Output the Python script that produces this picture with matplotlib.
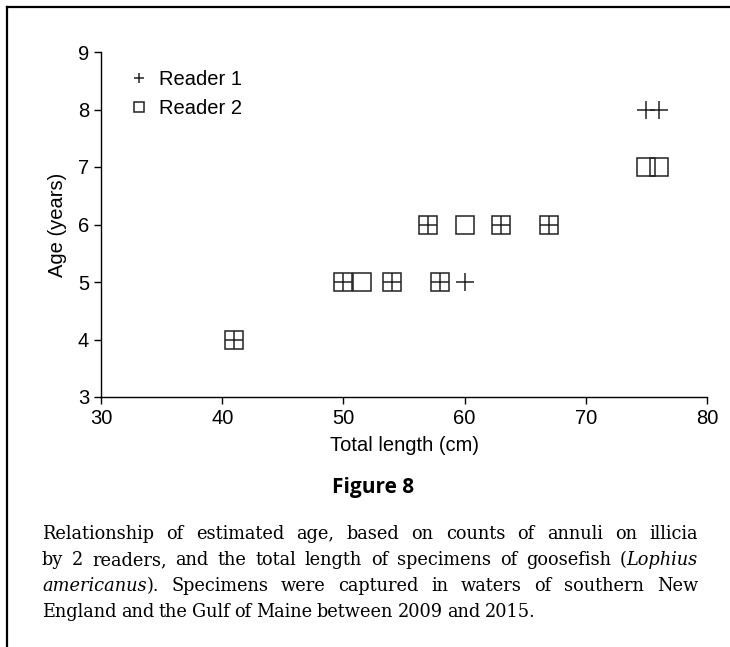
import matplotlib
matplotlib.use("Agg")
import matplotlib.pyplot as plt
from matplotlib.lines import Line2D

# reader 1 (+) and reader 2 (open square)
r1_length = [41, 50, 54, 58, 60, 57, 63, 67, 75, 76]
r1_age = [4, 5, 5, 5, 5, 6, 6, 6, 8, 8]
r2_length = [41, 50, 51.5, 54, 58, 57, 60, 63, 67, 75, 76]
r2_age = [4, 5, 5, 5, 5, 6, 6, 6, 6, 7, 7]

caption = [
    "Relationship of estimated age, based on counts of annuli on illicia",
    "by 2 readers, and the total length of specimens of goosefish (*Lophius*",
    "*americanus*). Specimens were captured in waters of southern New",
    "England and the Gulf of Maine between 2009 and 2015.",
]

plt.rcParams['font.family'] = ['Liberation Sans', 'DejaVu Sans']
W, H = 730, 647
fig = plt.figure(figsize=(W / 100, H / 100), dpi=100)
ax = fig.add_axes([101 / W, 1 - 397 / H, (707 - 101) / W, (397 - 52) / H])

ax.plot(r1_length, r1_age, linestyle='none', marker='+', markersize=13,
        markeredgewidth=1.1, color='#222222', label='Reader 1')
ax.plot(r2_length, r2_age, linestyle='none', marker='s', markersize=12.5,
        markeredgewidth=1.1, markerfacecolor='none', markeredgecolor='#222222',
        label='Reader 2')

ax.set_xlim(30, 80)
ax.set_ylim(3, 9)
ax.set_xticks(range(30, 81, 10))
ax.set_yticks(range(3, 10))
for s in ['top', 'right']:
    ax.spines[s].set_visible(False)
for s in ['left', 'bottom']:
    ax.spines[s].set_linewidth(1.0)
ax.tick_params(direction='out', length=5, width=1.0, labelsize=14.5)
ax.set_xlabel('Total length (cm)', fontsize=14.5, labelpad=6)
ax.set_ylabel('Age (years)', fontsize=14.5, labelpad=8)

ax.legend(loc='upper left', bbox_to_anchor=(0.04, 0.97), frameon=False,
          fontsize=14.5, markerscale=0.6, handlelength=0.6, handletextpad=0.7,
          labelspacing=0.5, borderaxespad=0)

# figure border (top and left only)
fig.add_artist(Line2D([7 / W, 1], [1 - 7 / H, 1 - 7 / H], color='black', lw=1.6))
fig.add_artist(Line2D([7 / W, 7 / W], [0, 1 - 7 / H], color='black', lw=1.6))

fig.text(373 / W, 1 - 487 / H, 'Figure 8', ha='center', va='center',
         fontsize=15, fontweight='bold', family=['Open Sans', 'DejaVu Sans'])

# justified caption, word by word (*...* marks italic)
fig.canvas.draw()
renderer = fig.canvas.get_renderer()
x0, x1 = 42, 698
ys = [534, 560, 586, 612]
for i, line in enumerate(caption):
    words = line.split(' ')
    arts = []
    for w in words:
        if '*' in w:
            parts = w.split('*')
            pieces = [(parts[0], 'normal'), (parts[1], 'italic'), (parts[2], 'normal')]
        else:
            pieces = [(w, 'normal')]
        group = []
        for txt, st in pieces:
            if txt == '':
                continue
            t = fig.text(0, 1 - ys[i] / H, txt, fontsize=12.8, family='DejaVu Serif',
                         style=st, va='center', ha='left')
            group.append(t)
        arts.append(group)
    widths = [[t.get_window_extent(renderer).width for t in g] for g in arts]
    total = sum(sum(g) for g in widths)
    if i < len(caption) - 1:
        gap = (x1 - x0 - total) / (len(words) - 1)
    else:
        gap = 4.5
    x = x0
    for group, gw in zip(arts, widths):
        for t, w in zip(group, gw):
            t.set_x(x / W)
            x += w
        x += gap

fig.savefig('out.png', dpi=100)
